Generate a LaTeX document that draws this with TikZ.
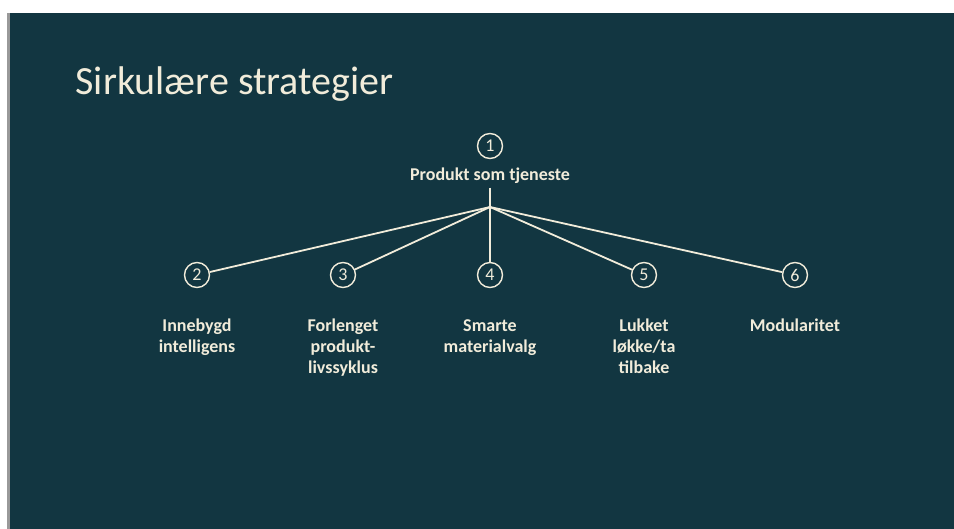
\documentclass[tikz,border=0pt]{standalone}
\usepackage{fontspec}
\setmainfont{Carlito}
\usetikzlibrary{positioning}
\definecolor{slidebg}{HTML}{123641}
\definecolor{cream}{HTML}{F1ECDA}

\begin{document}
\begin{tikzpicture}[x=1pt,y=-1pt,
  every node/.style={text=cream},
  num/.style={circle,draw=cream,line width=1.4pt,minimum size=25pt,inner sep=0pt,font=\fontsize{18}{18}\selectfont},
  lbl/.style={align=center,anchor=north,font=\bfseries\fontsize{18}{21}\selectfont},
  link/.style={draw=cream,line width=1.8pt}]
% slide frame
\fill[white] (0,0) rectangle (954,529);
\fill[black!40] (7,13) rectangle (10,529);
\fill[slidebg] (10,13) rectangle (954,529);
\node[anchor=base west,font=\fontsize{40}{40}\selectfont] (title) at (72,95) {Sirkulære strategier};
% top of the tree
\node[num] (n1) at (490,146) {1};
\node[lbl,anchor=base] (top) at (490,181) {Produkt som tjeneste};
\coordinate (hub) at (490,207);
\draw[link] (top.south)--(hub);
% the five strategies below
\foreach \i/\x in {2/197,3/343,4/490,5/644,6/795}{
  \node[num] (n\i) at (\x,275) {\i};
  \draw[link] (hub)--(n\i);
}
\node[lbl] (t2) at (197,313) {\strut Innebygd\\intelligens};
\node[lbl] (t3) at (343,313) {\strut Forlenget\\produkt-\\livssyklus};
\node[lbl] (t4) at (490,313) {\strut Smarte\\materialvalg};
\node[lbl] (t5) at (644,313) {\strut Lukket\\løkke/ta\\tilbake};
\node[lbl] (t6) at (795,313) {\strut Modularitet};
\end{tikzpicture}
\end{document}
